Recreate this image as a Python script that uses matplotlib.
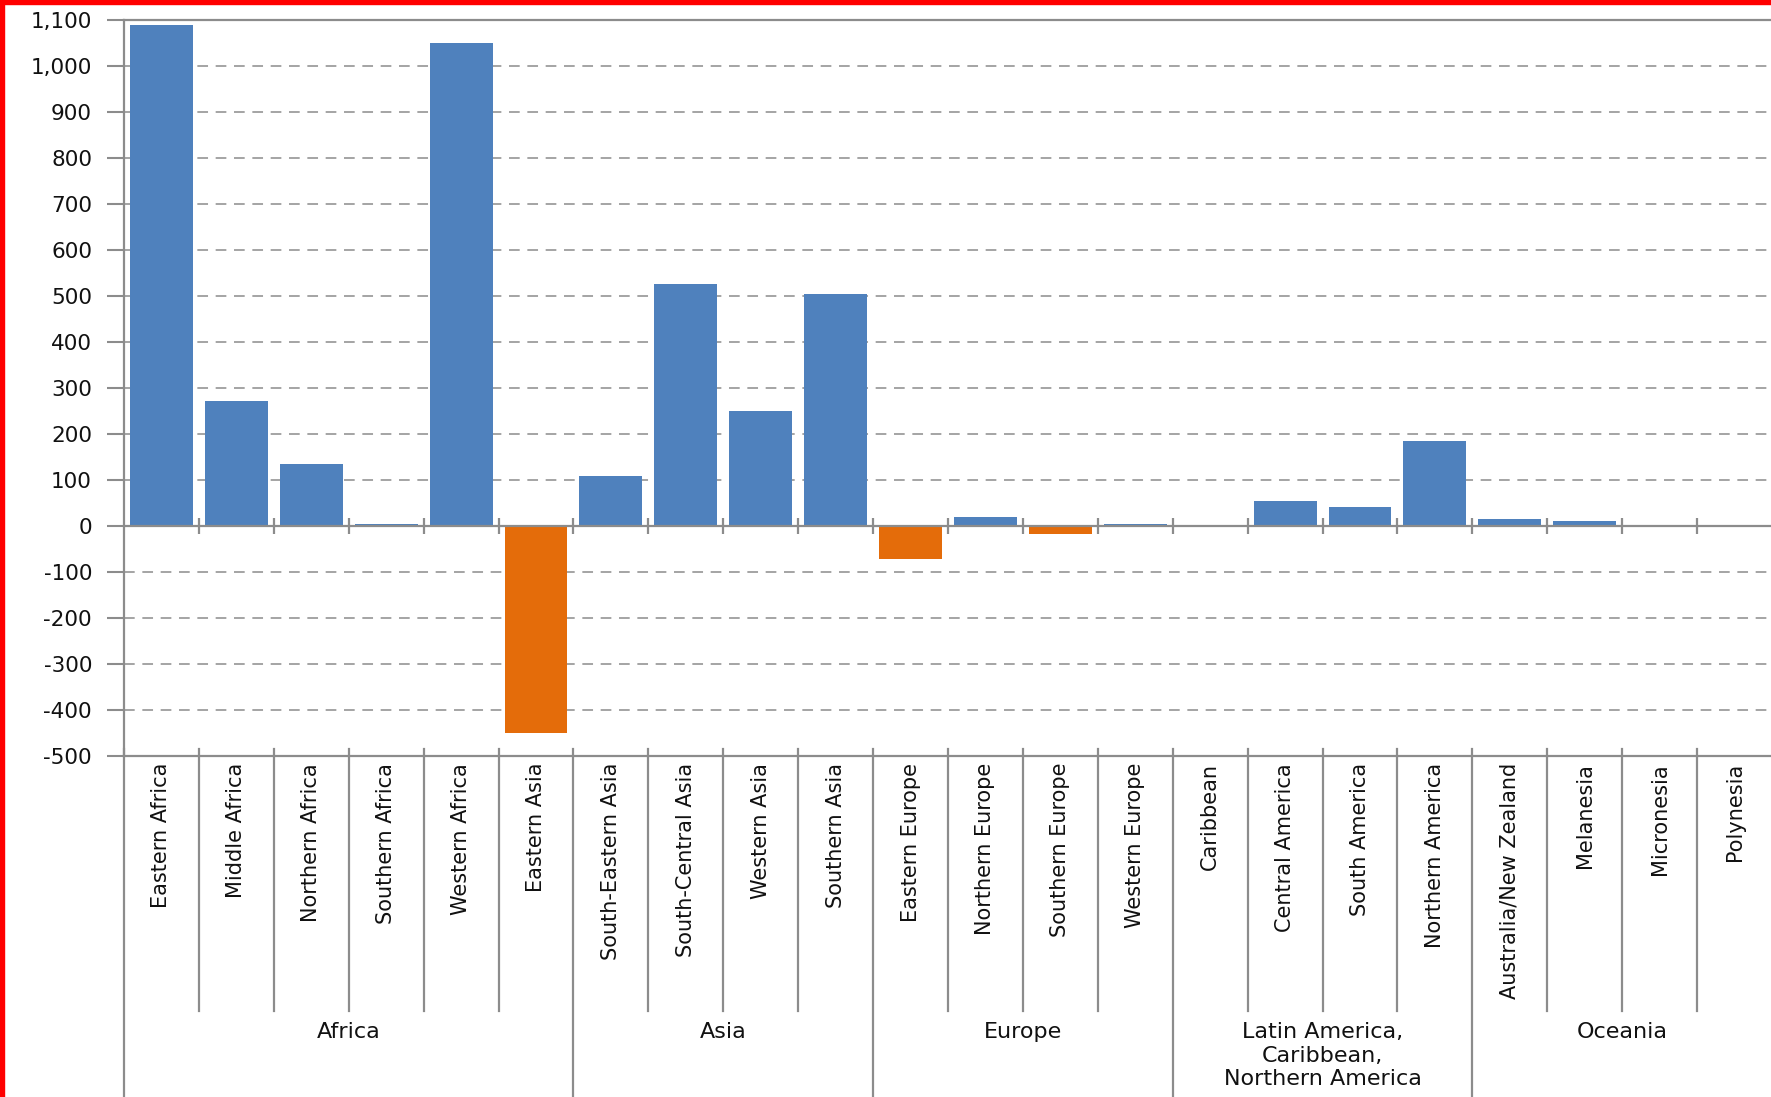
import numpy as np
import matplotlib
matplotlib.use("Agg")
import matplotlib.pyplot as plt
from matplotlib.ticker import FuncFormatter
import matplotlib.transforms as mtransforms
from matplotlib.patches import Rectangle

plt.rcParams['font.family'] = ['DejaVu Sans']

# sub-regions (bars) and their values
regions = ['Eastern Africa', 'Middle Africa', 'Northern Africa', 'Southern Africa',
           'Western Africa', 'Eastern Asia', 'South-Eastern Asia', 'South-Central Asia',
           'Western Asia', 'Southern Asia', 'Eastern Europe', 'Northern Europe',
           'Southern Europe', 'Western Europe', 'Caribbean', 'Central America',
           'South America', 'Northern America', 'Australia/New Zealand', 'Melanesia',
           'Micronesia', 'Polynesia']
values = [1090, 272, 135, 5, 1050, -450, 110, 527, 250, 505, -72, 20,
          -18, 5, 0, 54, 42, 185, 15, 10, 0, 0]

# top-level groups and how many sub-regions fall under each one
groups = ['Africa', 'Asia', 'Europe', 'Latin America,\nCaribbean,\nNorthern America', 'Oceania']
group_sizes = [6, 4, 4, 4, 4]

yticks = list(range(-500, 1101, 100))

blue = '#4f81bd'
orange = '#e46c0a'
gray = '#8c8c8c'

W, H = 1771, 1097
fig = plt.figure(figsize=(W / 100, H / 100), dpi=100)
ax = fig.add_axes([124 / W, 1 - 756 / H, 1648 / W, (756 - 20.3) / H])

x = np.arange(len(regions))
colors = [blue if v >= 0 else orange for v in values]
ax.bar(x, values, width=0.84, color=colors, zorder=2)

ax.set_xlim(-0.5, len(regions) - 0.5)
ax.set_ylim(-500, 1100)
ax.set_yticks(yticks)
ax.yaxis.set_major_formatter(FuncFormatter(lambda v, p: f'{int(v):,}'))
ax.tick_params(axis='y', direction='out', length=12, width=1.5, color=gray,
               labelsize=15.5, pad=11, labelcolor='#111111')

# dashed gridlines except at the frame and zero line
for v in yticks:
    if v in (-500, 0, 1100):
        continue
    ax.axhline(v, color=gray, lw=1.1, ls=(0, (7, 5)), zorder=1)
ax.axhline(0, color=gray, lw=1.6, zorder=3)

for s in ['top', 'left', 'bottom', 'right']:
    ax.spines[s].set_color(gray)
    ax.spines[s].set_linewidth(1.6)

# boundary tick marks on the zero line
bounds = np.arange(len(regions) + 1) - 0.5
ax.plot(bounds[1:-1], np.zeros(len(bounds) - 2), ls='', marker='|', ms=11,
        mew=1.6, color=gray, zorder=3, clip_on=False)

# category labels
ax.set_xticks(x)
ax.set_xticklabels(regions, rotation=90, fontsize=15, color='#111111')
ax.tick_params(axis='x', length=0, pad=5)

# multi-level category separators below the plot
trans = mtransforms.blended_transform_factory(ax.transData, ax.transAxes)
group_edges = np.concatenate([[0], np.cumsum(group_sizes)]) - 0.5
for b in bounds:
    if b in group_edges:
        ax.plot([b, b], [0.01, -0.47], color=gray, lw=1.6, transform=trans, clip_on=False)
    else:
        ax.plot([b, b], [0.01, -0.3466], color=gray, lw=1.6, transform=trans, clip_on=False)

for name, lo, hi in zip(groups, group_edges[:-1], group_edges[1:]):
    ax.text((lo + hi) / 2, -0.362, name, transform=trans, ha='center', va='top',
            fontsize=16, color='#111111', multialignment='center', linespacing=1.22)

# red frame on the left and top edges
fig.patches.append(Rectangle((0, 0), 4 / W, 1, transform=fig.transFigure,
                             color='#ff0000', zorder=10))
fig.patches.append(Rectangle((0, 1 - 4 / H), 1, 4 / H, transform=fig.transFigure,
                             color='#ff0000', zorder=10))

fig.savefig('out.png', dpi=100, facecolor='white')
